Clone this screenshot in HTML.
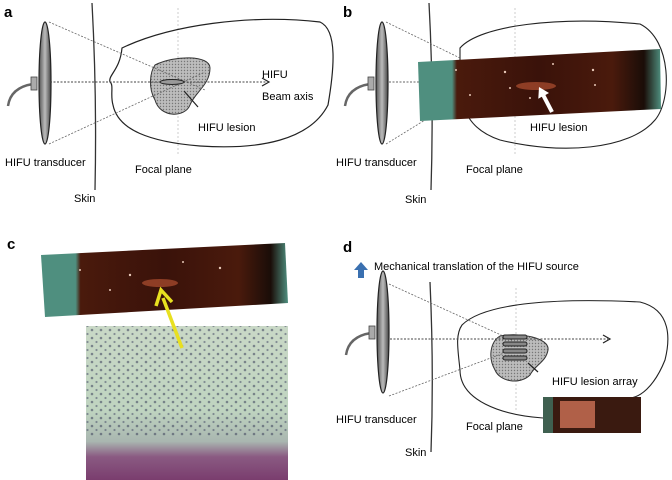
<!DOCTYPE html>
<html><head><meta charset="utf-8"><style>
body{margin:0;background:#fff;}
svg{display:block;font-family:"Liberation Sans",sans-serif;}
</style></head><body>
<svg width="672" height="480" viewBox="0 0 672 480" xmlns="http://www.w3.org/2000/svg">
<defs>
<pattern id="dots" width="3" height="3" patternUnits="userSpaceOnUse"><rect width="3" height="3" fill="#bdbdbd"/><circle cx="1.5" cy="1.5" r="0.7" fill="#777"/></pattern>
<linearGradient id="disc" x1="0" x2="1"><stop offset="0" stop-color="#555"/><stop offset="0.5" stop-color="#bbb"/><stop offset="1" stop-color="#444"/></linearGradient>
<linearGradient id="strip" x1="0" x2="1"><stop offset="0" stop-color="#4f8f7f"/><stop offset="0.14" stop-color="#4f8f7f"/><stop offset="0.16" stop-color="#4a1a0c"/><stop offset="0.5" stop-color="#3a120a"/><stop offset="0.8" stop-color="#4a1a0c"/><stop offset="0.93" stop-color="#1a0d08"/><stop offset="1" stop-color="#4f8f7f"/></linearGradient>
<linearGradient id="histo" x1="0" y1="0" x2="0" y2="1"><stop offset="0" stop-color="#c9d8c6"/><stop offset="0.55" stop-color="#bfd4c0"/><stop offset="0.75" stop-color="#a9b6b0"/><stop offset="0.85" stop-color="#8a5a82"/><stop offset="1" stop-color="#7a3d6e"/></linearGradient>
<pattern id="cells" width="9" height="8" patternUnits="userSpaceOnUse"><circle cx="2" cy="2" r="1.3" fill="#3a3f5a"/><circle cx="6.5" cy="6" r="1.1" fill="#4a4f6a"/></pattern>
<g id="trans">
<path d="M33,84 C20,86 10,92 8,106" fill="none" stroke="#666" stroke-width="2.5"/>
<rect x="31" y="77" width="6" height="13" fill="#aaa" stroke="#444" stroke-width="0.8"/>
<ellipse cx="45" cy="83" rx="6" ry="61" fill="url(#disc)" stroke="#222" stroke-width="1.2"/>
</g>
</defs>

<!-- Panel a -->
<text x="4" y="17" font-size="15" font-weight="bold">a</text>
<use href="#trans"/>
<path d="M92,3 Q97,95 95,190" fill="none" stroke="#333" stroke-width="1.3"/>
<line x1="178" y1="8" x2="178" y2="155" stroke="#ccc" stroke-dasharray="2,2"/>
<path d="M122,48 C170,25 250,14 320,22 C338,30 334,70 328,105 C310,140 260,150 200,146 C150,142 118,130 113,105 C110,95 114,85 110,82 C108,75 120,70 122,48Z" fill="none" stroke="#222" stroke-width="1.2"/>
<path d="M155,65 C175,55 210,55 210,68 C210,85 195,92 190,105 C185,118 160,118 155,100 C148,88 150,72 155,65Z" fill="url(#dots)" stroke="#333" stroke-width="1"/>
<line x1="49" y1="22" x2="205" y2="90" stroke="#666" stroke-dasharray="2,1.5" stroke-width="0.8"/>
<line x1="49" y1="144" x2="205" y2="72" stroke="#666" stroke-dasharray="2,1.5" stroke-width="0.8"/>
<line x1="50" y1="82" x2="266" y2="82" stroke="#444" stroke-dasharray="2,1.5"/>
<path d="M262,78 L269,82 L262,86" fill="none" stroke="#222" stroke-width="1.2"/>
<ellipse cx="172" cy="82" rx="12" ry="2.5" fill="#999" stroke="#222"/>
<line x1="198" y1="107" x2="184" y2="91" stroke="#222" stroke-width="1.2"/>
<text x="262" y="78" font-size="11">HIFU</text>
<text x="262" y="100" font-size="11">Beam axis</text>
<text x="198" y="131" font-size="11">HIFU lesion</text>
<text x="5" y="166" font-size="11">HIFU transducer</text>
<text x="135" y="173" font-size="11">Focal plane</text>
<text x="74" y="202" font-size="11">Skin</text>

<!-- Panel b -->
<text x="343" y="17" font-size="15" font-weight="bold">b</text>
<use href="#trans" x="337"/>
<path d="M429,3 Q434,95 431,190" fill="none" stroke="#333" stroke-width="1.3"/>
<line x1="515" y1="8" x2="515" y2="155" stroke="#ccc" stroke-dasharray="2,2"/>
<path d="M460,48 C480,25 560,16 640,24 C672,40 672,100 655,120 C630,150 560,155 500,140 C470,130 460,110 460,80Z" fill="none" stroke="#222" stroke-width="1.1"/>
<line x1="386" y1="22" x2="460" y2="58" stroke="#666" stroke-dasharray="2,1.5" stroke-width="0.8"/>
<line x1="386" y1="144" x2="425" y2="120" stroke="#666" stroke-dasharray="2,1.5" stroke-width="0.8"/>
<line x1="389" y1="82" x2="420" y2="82" stroke="#666" stroke-dasharray="2,1.5"/>
<polygon points="418,62 660,49 661,109 420,121" fill="url(#strip)"/>
<ellipse cx="536" cy="86" rx="20" ry="4" fill="#b05030" opacity="0.7"/>
<g fill="#e8c8b8"><circle cx="456" cy="70" r="1"/><circle cx="505" cy="72" r="1.2"/><circle cx="510" cy="88" r="1"/><circle cx="553" cy="64" r="1"/><circle cx="593" cy="70" r="1.2"/><circle cx="595" cy="85" r="1"/><circle cx="530" cy="98" r="1"/><circle cx="470" cy="95" r="1"/></g>
<polygon points="539,87 549,93 545.4,95 553.8,111.1 550.2,112.9 541.8,96.8 538.3,98.7" fill="#fff"/>
<text x="530" y="131" font-size="11">HIFU lesion</text>
<text x="336" y="166" font-size="11">HIFU transducer</text>
<text x="466" y="173" font-size="11">Focal plane</text>
<text x="405" y="203" font-size="11">Skin</text>

<!-- Panel c -->
<text x="7" y="249" font-size="15" font-weight="bold">c</text>
<polygon points="41,255 285,243 288,303 45,317" fill="url(#strip)"/>
<ellipse cx="160" cy="283" rx="18" ry="4" fill="#b05030" opacity="0.7"/>
<g fill="#e8c8b8"><circle cx="80" cy="270" r="1"/><circle cx="130" cy="275" r="1.2"/><circle cx="183" cy="262" r="1"/><circle cx="220" cy="268" r="1.2"/><circle cx="110" cy="290" r="1"/></g>
<rect x="86" y="326" width="202" height="154" fill="url(#histo)"/>
<rect x="86" y="326" width="202" height="110" fill="url(#cells)" opacity="0.55"/>
<line x1="182" y1="348" x2="163" y2="298" stroke="#e8e020" stroke-width="3.5"/>
<path d="M156,306 L161,290 L172,302" fill="none" stroke="#e8e020" stroke-width="3.5"/>

<!-- Panel d -->
<text x="343" y="252" font-size="15" font-weight="bold">d</text>
<path d="M358,278 L358,270 L354,270 L361,262 L368,270 L364,270 L364,278Z" fill="#3a70b0"/>
<text x="374" y="270" font-size="11">Mechanical translation of the HIFU source</text>
<g transform="translate(338,249)"><use href="#trans"/></g>
<path d="M430,282 Q434,370 431,452" fill="none" stroke="#333" stroke-width="1.3"/>
<line x1="516" y1="288" x2="516" y2="410" stroke="#ccc" stroke-dasharray="2,2"/>
<path d="M625,398 C640,400 655,385 665,360 C670,340 672,310 640,302 C560,298 485,302 462,325 C455,335 458,350 460,370 C460,400 500,415 543,418" fill="none" stroke="#222" stroke-width="1.1"/>
<path d="M500,336 C520,332 550,338 548,350 C546,362 535,365 530,375 C520,385 500,382 495,370 C488,358 490,342 500,336Z" fill="url(#dots)" stroke="#333"/>
<line x1="389" y1="284" x2="512" y2="340" stroke="#666" stroke-dasharray="2,1.5" stroke-width="0.8"/>
<line x1="389" y1="396" x2="512" y2="350" stroke="#666" stroke-dasharray="2,1.5" stroke-width="0.8"/>
<line x1="390" y1="339" x2="608" y2="339" stroke="#444" stroke-dasharray="2,1.5"/>
<path d="M603,335 L610,339 L603,343" fill="none" stroke="#222" stroke-width="1.2"/>
<g fill="#888" stroke="#222"><rect x="503" y="335" width="24" height="4" rx="2"/><rect x="503" y="342" width="24" height="4" rx="2"/><rect x="503" y="349" width="24" height="4" rx="2"/><rect x="503" y="356" width="24" height="4" rx="2"/></g>
<line x1="538" y1="372" x2="528" y2="363" stroke="#222" stroke-width="1.2"/>
<text x="552" y="385" font-size="11">HIFU lesion array</text>
<rect x="543" y="397" width="98" height="36" fill="#3a1a10"/>
<rect x="543" y="397" width="10" height="36" fill="#3f6050"/>
<rect x="560" y="401" width="35" height="27" fill="#b06048"/>
<text x="336" y="423" font-size="11">HIFU transducer</text>
<text x="466" y="430" font-size="11">Focal plane</text>
<text x="405" y="456" font-size="11">Skin</text>
</svg>
</body></html>
